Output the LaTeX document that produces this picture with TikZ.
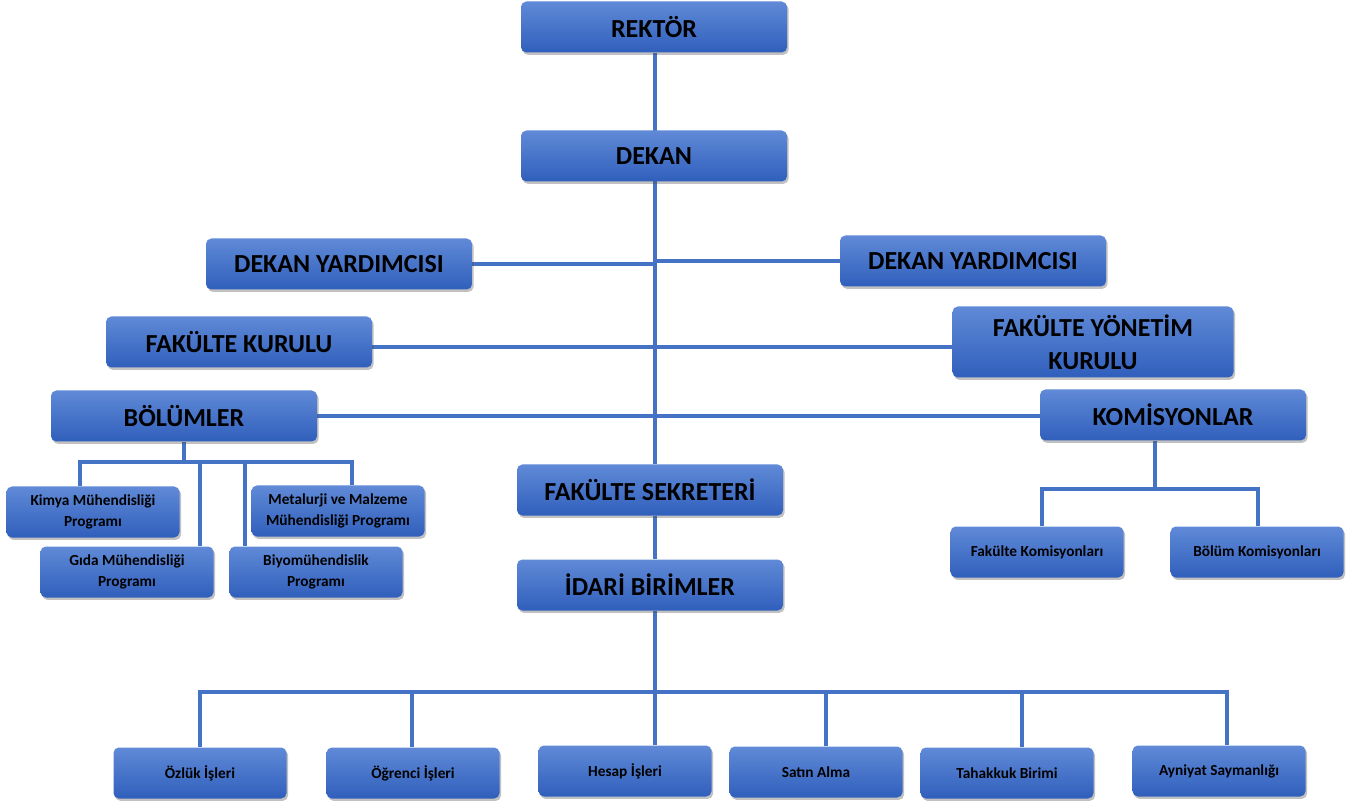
\documentclass[tikz,border=0pt]{standalone}
\usepackage{fontspec}
\setmainfont{Carlito}
\usetikzlibrary{shadows,backgrounds}
\definecolor{boxtop}{RGB}{96,138,215}
\definecolor{boxbot}{RGB}{48,95,188}
\definecolor{linec}{RGB}{68,114,196}
\tikzset{
  box/.style={rounded corners=4pt, top color=boxtop, bottom color=boxbot, draw=none,
    drop shadow={shadow xshift=1.2pt, shadow yshift=-1.8pt, opacity=0.35, fill=black!70},
    align=center, inner sep=2pt, text=black},
  bigbox/.style={box, minimum width=199.5pt, minimum height=38.25pt,
    font=\fontsize{19.5}{25}\selectfont\bfseries},
  smallbox/.style={box, minimum width=129.75pt, minimum height=38.25pt,
    font=\fontsize{11.5}{15.5}\selectfont\bfseries},
  conn/.style={draw=linec, line width=2.6pt}
}
\begin{document}
\begin{tikzpicture}[x=0.75pt, y=-0.75pt]
\useasboundingbox (0,0) rectangle (1357,805);
% main column
\node[bigbox] (rektor) at (654,27) {REKTÖR};
\node[bigbox] (dekan) at (654,156) {DEKAN};
\node[bigbox] (dyl) at (339,264) {DEKAN YARDIMCISI};
\node[bigbox] (dyr) at (973,261) {DEKAN YARDIMCISI};
\node[bigbox] (fk) at (239,342) {FAKÜLTE KURULU};
\node[bigbox, minimum width=210.75pt, minimum height=53.25pt] (fyk) at (1093,342) {FAKÜLTE YÖNETİM\\KURULU};
\node[bigbox] (bol) at (184,416) {BÖLÜMLER};
\node[bigbox] (kom) at (1173,415) {KOMİSYONLAR};
\node[bigbox] (fs) at (650,490) {FAKÜLTE SEKRETERİ};
\node[bigbox] (idari) at (650,585) {İDARİ BİRİMLER};
% programs
\node[smallbox] (kimya) at (93,512) {Kimya Mühendisliği\\Programı};
\node[smallbox] (metal) at (338,511) {Metalurji ve Malzeme\\Mühendisliği Programı};
\node[smallbox] (gida) at (127,572) {Gıda Mühendisliği\\Programı};
\node[smallbox] (biyo) at (316,572) {Biyomühendislik\\Programı};
% commissions
\node[smallbox] (fkom) at (1037,552) {Fakülte Komisyonları};
\node[smallbox] (bkom) at (1257,552) {Bölüm Komisyonları};
% administrative units
\node[smallbox] (ozluk) at (200,773) {Özlük İşleri};
\node[smallbox] (ogr) at (413,773) {Öğrenci İşleri};
\node[smallbox] (hesap) at (625,771) {Hesap İşleri};
\node[smallbox] (satin) at (816,772) {Satın Alma};
\node[smallbox] (tah) at (1007,773) {Tahakkuk Birimi};
\node[smallbox] (ayn) at (1219,771) {Ayniyat Saymanlığı};
% helper coordinates
\coordinate (sp) at (655,0);
\coordinate (fkl) at (0,347);
\coordinate (boll) at (0,416);
\coordinate (bbL) at (80,462);
\coordinate (bbG) at (200,462);
\coordinate (bbB) at (245,462);
\coordinate (bbR) at (352,462);
\coordinate (kbC) at (1155,489);
\coordinate (kbL) at (1042,489);
\coordinate (kbR) at (1258,489);
\coordinate (ib1) at (200,692);
\coordinate (ib2) at (412,692);
\coordinate (ib4) at (826,692);
\coordinate (ib5) at (1022,692);
\coordinate (ib6) at (1227,692);
\begin{scope}[on background layer]
\draw[conn] (sp |- rektor.south) -- (sp |- fs.north);
\draw[conn] (sp |- fs.south) -- (sp |- idari.north);
\draw[conn] (sp |- idari.south) -- (sp |- hesap.north);
\draw[conn] (dyl.east) -- (dyl.east -| sp);
\draw[conn] (dyr.west) -- (dyr.west -| sp);
\draw[conn] (fk.east |- fkl) -- (fyk.west |- fkl);
\draw[conn] (bol.east |- boll) -- (kom.west |- boll);
% bolumler tree
\draw[conn] (bol.south) -- (bol.south |- bbL);
\draw[conn] (bbL |- kimya.north) -- (bbL) -- (bbR) -- (bbR |- metal.north);
\draw[conn] (bbG) -- (bbG |- gida.north);
\draw[conn] (bbB) -- (bbB |- biyo.north);
% komisyon tree
\draw[conn] (kbC |- kom.south) -- (kbC);
\draw[conn] (kbL |- fkom.north) -- (kbL) -- (kbR) -- (kbR |- bkom.north);
% idari tree
\draw[conn] (ib1 |- ozluk.north) -- (ib1) -- (ib6) -- (ib6 |- ayn.north);
\draw[conn] (ib2) -- (ib2 |- ogr.north);
\draw[conn] (ib4) -- (ib4 |- satin.north);
\draw[conn] (ib5) -- (ib5 |- tah.north);
\end{scope}
\end{tikzpicture}
\end{document}
